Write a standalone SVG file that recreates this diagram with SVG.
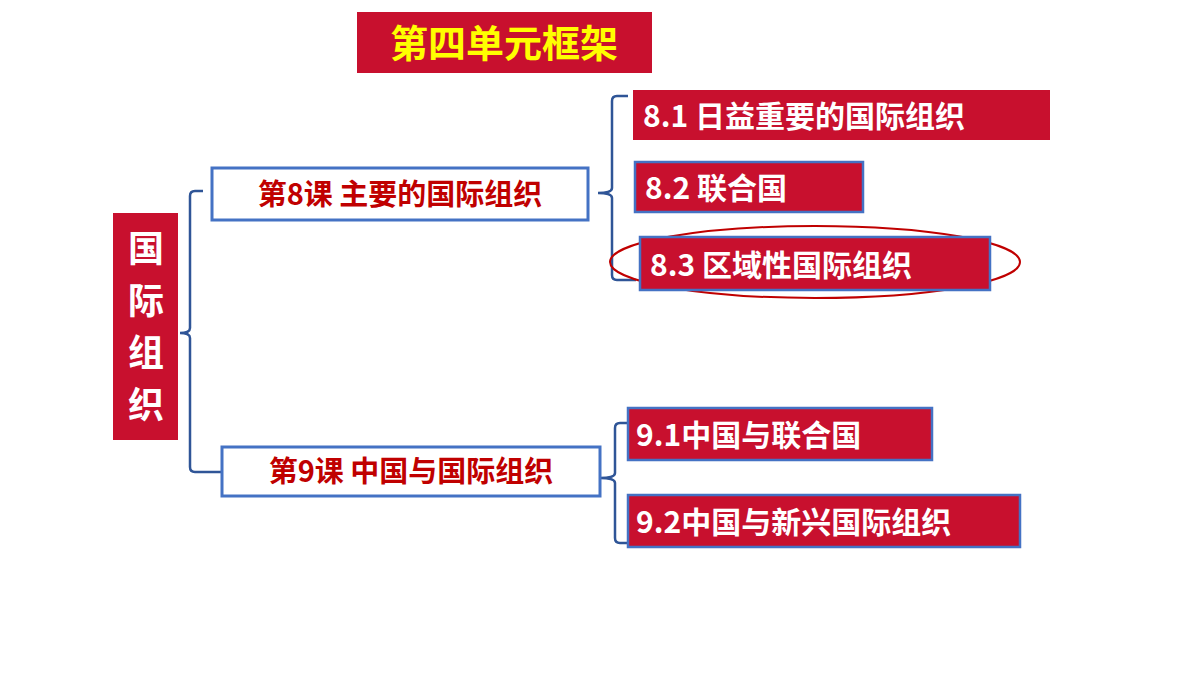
<svg xmlns="http://www.w3.org/2000/svg" width="1200" height="675" viewBox="0 0 1200 675">
<style>
.red{fill:#c8102e}
.redb{fill:#c8102e;stroke:#4472c4;stroke-width:2.5}
.whb{fill:#fff;stroke:#4472c4;stroke-width:3}
.t{font-family:"Noto Sans CJK SC","Liberation Sans",sans-serif;font-weight:bold}
.w{fill:#fff;font-size:30px}
.r{fill:#c00000;font-size:29px}
.br{fill:none;stroke:#2f5597;stroke-width:2.5}
</style>
<rect width="1200" height="675" fill="#fff"/>
<g id="title"><rect x="357" y="12" width="295" height="61" class="red"/><text x="504" y="57" text-anchor="middle" class="t" font-size="38" fill="#ffff00">第四单元框架</text></g>
<g id="root"><rect x="113" y="213" width="65" height="227" class="red"/>
<text class="t w" font-size="36" text-anchor="middle" style="font-size:36px"><tspan x="146" y="262">国</tspan><tspan x="146" y="314">际</tspan><tspan x="146" y="366">组</tspan><tspan x="146" y="418">织</tspan></text></g>
<g id="connectors">
<path class="br" d="M203 191 H195 Q190 191 190 196 V328 Q190 333 180 333 Q190 333 190 338 V467 Q190 472 195 472 H222"/>
<path class="br" d="M628 96 H617 Q612 96 612 101 V188 Q612 193 598 193 Q612 193 612 198 V275 Q612 280 617 280 H636"/>
<path class="br" d="M628 423 H620 Q615 423 615 428 V473 Q615 478 600 478 Q615 478 615 483 V538 Q615 543 620 543 H628"/>
</g>
<g id="l8"><rect x="212" y="168" width="376" height="52" class="whb"/><text x="400" y="205" text-anchor="middle" class="t r">第8课 主要的国际组织</text></g>
<g id="l9"><rect x="222" y="447" width="378" height="49" class="whb"/><text x="411" y="482" text-anchor="middle" class="t r">第9课 中国与国际组织</text></g>
<g id="n81"><rect x="633" y="90" width="417" height="50" class="red"/><text x="643" y="127" class="t w">8.1 日益重要的国际组织</text></g>
<g id="n82"><rect x="635" y="162" width="228" height="50" class="redb"/><text x="645" y="199" class="t w">8.2  联合国</text></g>
<g id="n83"><ellipse cx="815" cy="262" rx="205" ry="36" fill="none" stroke="#c00000" stroke-width="2"/><rect x="640" y="237" width="350" height="53" class="redb"/><text x="650" y="276" class="t w">8.3  区域性国际组织</text></g>
<g id="n91"><rect x="628" y="408" width="304" height="52" class="redb"/><text x="636" y="446" class="t w">9.1中国与联合国</text></g>
<g id="n92"><rect x="628" y="495" width="392" height="52" class="redb"/><text x="636" y="533" class="t w">9.2中国与新兴国际组织</text></g>
</svg>
